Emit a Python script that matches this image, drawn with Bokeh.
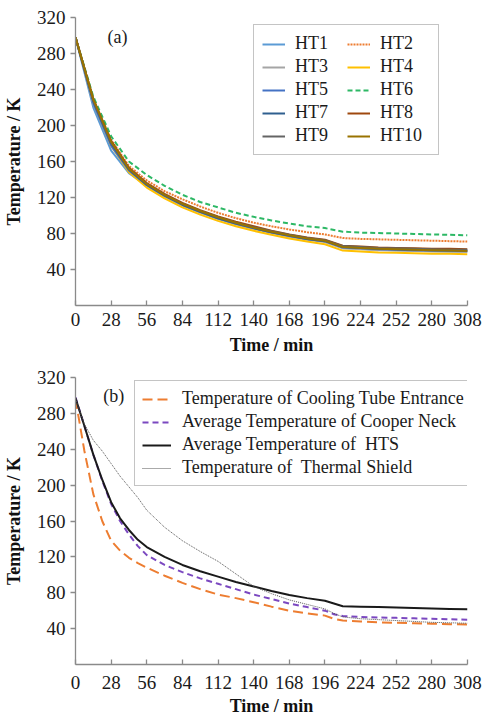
from bokeh.plotting import figure
from bokeh.models import Range1d, FixedTicker, Legend, LegendItem, Label
from bokeh.layouts import column
from bokeh.embed import file_html
from bokeh.resources import INLINE

# ---------------- data (a) ----------------
time_a = [0, 14, 28, 42, 56, 70, 84, 98, 112, 126, 140, 154, 168, 182, 196, 210, 224, 238, 252, 266, 280, 294, 308]
ht1 = [298, 220, 172, 147, 133, 122, 112, 104, 97, 91, 86, 81, 77, 73.5, 71, 64, 63, 62, 61.5, 61, 60.5, 60, 60]
ht2 = [298, 230, 184, 155, 139, 127, 118, 110, 103, 97, 92, 88, 84.5, 81.5, 79, 75, 74, 73.5, 73, 72.5, 72, 71.5, 71]
ht3 = [298, 224, 177, 149, 133, 121, 111, 103, 96, 90, 85, 80.5, 76.5, 73, 70.5, 63.5, 62.5, 61.5, 61, 60.5, 60, 60, 59.5]
ht4 = [298, 226, 178, 148, 131, 119, 109, 101, 94, 88, 83, 78.5, 74.5, 71, 68, 61, 60, 59, 58.5, 58, 57.5, 57.5, 57]
ht5 = [298, 225, 178, 150, 134, 122, 112, 104, 97, 91, 86, 81.5, 77.5, 74, 71.5, 64.5, 63.5, 62.5, 62, 61.5, 61, 61, 60.5]
ht6 = [298, 232, 188, 160, 145, 133, 123, 115, 109, 103, 98.5, 94.5, 91, 88, 86, 82, 81, 80.5, 80, 79.5, 79, 78.5, 78]
ht7 = [298, 227, 180, 151, 134, 122, 112, 104, 97, 91, 86, 81.5, 77.5, 74, 71.5, 65, 64, 63, 62.5, 62, 61.5, 61, 61]
ht8 = [298, 229, 183, 153, 136, 124, 114, 106, 99, 93, 88, 83, 79, 75.5, 73, 66.5, 65.5, 64.5, 64, 63.5, 63, 63, 62.5]
ht9 = [298, 228, 181, 152, 135, 123, 113, 105, 98, 92, 87, 82.5, 78.5, 75, 72.5, 66, 65, 64, 63.5, 63, 62.5, 62, 62]
ht10 = [298, 229, 182, 152, 135, 123, 113, 105, 98, 92, 86.5, 82, 78, 74.5, 72, 65, 64, 63, 62.5, 62, 61.5, 61, 60.5]

# ---------------- data (b) ----------------
time_b = [0, 7, 14, 21, 28, 35, 42, 49, 56, 70, 84, 98, 112, 126, 140, 154, 168, 182, 196, 203, 210, 224, 238, 252, 266, 280, 294, 308]
cooling_tube = [296, 238, 190, 160, 138, 127, 119, 113, 108, 99, 91, 84, 78, 74, 69.5, 64.5, 60, 57, 54.5, 51, 49, 48, 47, 46.5, 46, 45.5, 45, 44.5]
copper_neck = [298, 266, 234, 205, 179, 160, 145, 132, 122, 111, 103, 96, 90, 84, 78, 73, 68, 64, 60, 56, 54, 53, 52.5, 52, 51.5, 51, 50.5, 50]
hts_avg = [297, 266, 234, 206, 181, 163, 150, 139, 131, 120, 111, 104, 98, 92, 87, 82, 77.5, 74, 71, 68, 65, 64.5, 64, 63.5, 63, 62.5, 62, 61.5]
thermal_shield = [296, 268, 250, 238, 224, 210, 198, 186, 172, 153, 138, 126, 115, 101, 87, 79, 72, 67, 62, 57, 53, 51, 50, 49, 48, 47, 46.5, 46]

x_ticks = [0, 28, 56, 84, 112, 140, 168, 196, 224, 252, 280, 308]
y_ticks = [40, 80, 120, 160, 200, 240, 280, 320]

SERIF = "'Liberation Serif', 'Times New Roman', serif"
FRAME_W = 392


def make_fig(top, frame_h, bottom):
    p = figure(width=474, height=top + frame_h + bottom, output_backend="svg", toolbar_location=None,
               x_range=Range1d(0, 308), y_range=Range1d(0, 320),
               frame_width=FRAME_W, frame_height=frame_h,
               min_border_left=67, min_border_right=15, min_border_top=top, min_border_bottom=bottom)
    p.outline_line_color = None
    p.xgrid.visible = False
    p.ygrid.visible = False
    p.background_fill_color = "white"
    p.border_fill_color = "white"
    p.xaxis.ticker = FixedTicker(ticks=x_ticks)
    p.yaxis.ticker = FixedTicker(ticks=y_ticks)
    for ax in (p.xaxis[0], p.yaxis[0]):
        ax.axis_line_color = "#8a8a8a"
        ax.axis_line_width = 1.3
        ax.major_tick_line_color = "#8a8a8a"
        ax.major_tick_line_width = 1.3
        ax.minor_tick_line_color = None
        ax.major_label_text_font = SERIF
        ax.major_label_text_font_size = "19px"
        ax.major_label_text_color = "#1a1a1a"
        ax.axis_label_text_font = SERIF
        ax.axis_label_text_font_size = "18px"
        ax.axis_label_text_font_style = "bold"
        ax.axis_label_text_color = "#111111"
    p.xaxis.major_tick_in = 5
    p.xaxis.major_tick_out = 0
    p.xaxis.major_label_standoff = 7
    p.xaxis.axis_label = "Time / min"
    p.xaxis.axis_label_standoff = 6
    p.yaxis.major_tick_in = 0
    p.yaxis.major_tick_out = 5
    p.yaxis.major_label_standoff = 5
    p.yaxis.axis_label = "Temperature / K"
    p.yaxis.axis_label_standoff = 10
    return p


# ---------------- panel (a) ----------------
pa = make_fig(17, 288, 55)
specs_a = [
    ("HT1", ht1, "#5B9BD5", "solid"),
    ("HT2", ht2, "#ED7D31", "2 1"),
    ("HT3", ht3, "#A5A5A5", "solid"),
    ("HT4", ht4, "#FFC000", "solid"),
    ("HT5", ht5, "#4472C4", "solid"),
    ("HT6", ht6, "#2DB865", "5 3"),
    ("HT7", ht7, "#2F5F8F", "solid"),
    ("HT8", ht8, "#9E480E", "solid"),
    ("HT9", ht9, "#646464", "solid"),
    ("HT10", ht10, "#997300", "solid"),
]
items_a = {}
for name, vals, col, dash in specs_a:
    r = pa.line(time_a, vals, line_color=col, line_width=2, line_dash=dash)
    items_a[name] = LegendItem(label=name, renderers=[r])

# column-major layout: first column HT1..HT9 (odd), second column HT2..HT10 (even)
order_a = ["HT1", "HT3", "HT5", "HT7", "HT9", "HT2", "HT4", "HT6", "HT8", "HT10"]
leg_a = Legend(items=[items_a[n] for n in order_a], location=(178, 150), ncols=2,
               label_text_font=SERIF, label_text_font_size="18px", label_text_color="#1a1a1a",
               glyph_width=23, glyph_height=20, label_standoff=10, label_width=50,
               spacing=2, padding=8, margin=0,
               border_line_color="#8a8a8a", border_line_width=1.5,
               background_fill_alpha=1.0)
pa.add_layout(leg_a, "center")
pa.add_layout(Label(x=33, y=298, text="(a)", text_font=SERIF, text_font_size="18px",
                    text_align="center", text_baseline="middle", text_color="#1a1a1a"))

# ---------------- panel (b) ----------------
pb = make_fig(17, 287, 56)
pb.xaxis.major_label_standoff = 11
pb.xaxis.axis_label_standoff = 4
specs_b = [
    ("Temperature of Cooling Tube Entrance", cooling_tube, "#ED7D31", "10 5", 2),
    ("Average Temperature of Cooper Neck", copper_neck, "#7B48C0", "6 4", 2),
    ("Average Temperature of  HTS", hts_avg, "#1a1a1a", "solid", 2),
    ("Temperature of  Thermal Shield", thermal_shield, "#555555", "1 1", 1),
]
items_b = []
for name, vals, col, dash, lw in specs_b:
    r = pb.line(time_b, vals, line_color=col, line_width=lw, line_dash=dash)
    items_b.append(LegendItem(label=name, renderers=[r]))
leg_b = Legend(items=items_b, location=(59, 178),
               label_text_font=SERIF, label_text_font_size="18px", label_text_color="#1a1a1a",
               glyph_width=29, glyph_height=20, label_standoff=11,
               spacing=2, padding=7, margin=0,
               border_line_color="#8a8a8a", border_line_width=1.5,
               background_fill_alpha=1.0)
pb.add_layout(leg_b, "center")
pb.add_layout(Label(x=30, y=299, text="(b)", text_font=SERIF, text_font_size="18px",
                    text_align="center", text_baseline="middle", text_color="#1a1a1a"))

layout = column(pa, pb, spacing=0)
open("out.html", "w").write(file_html(layout, INLINE))
